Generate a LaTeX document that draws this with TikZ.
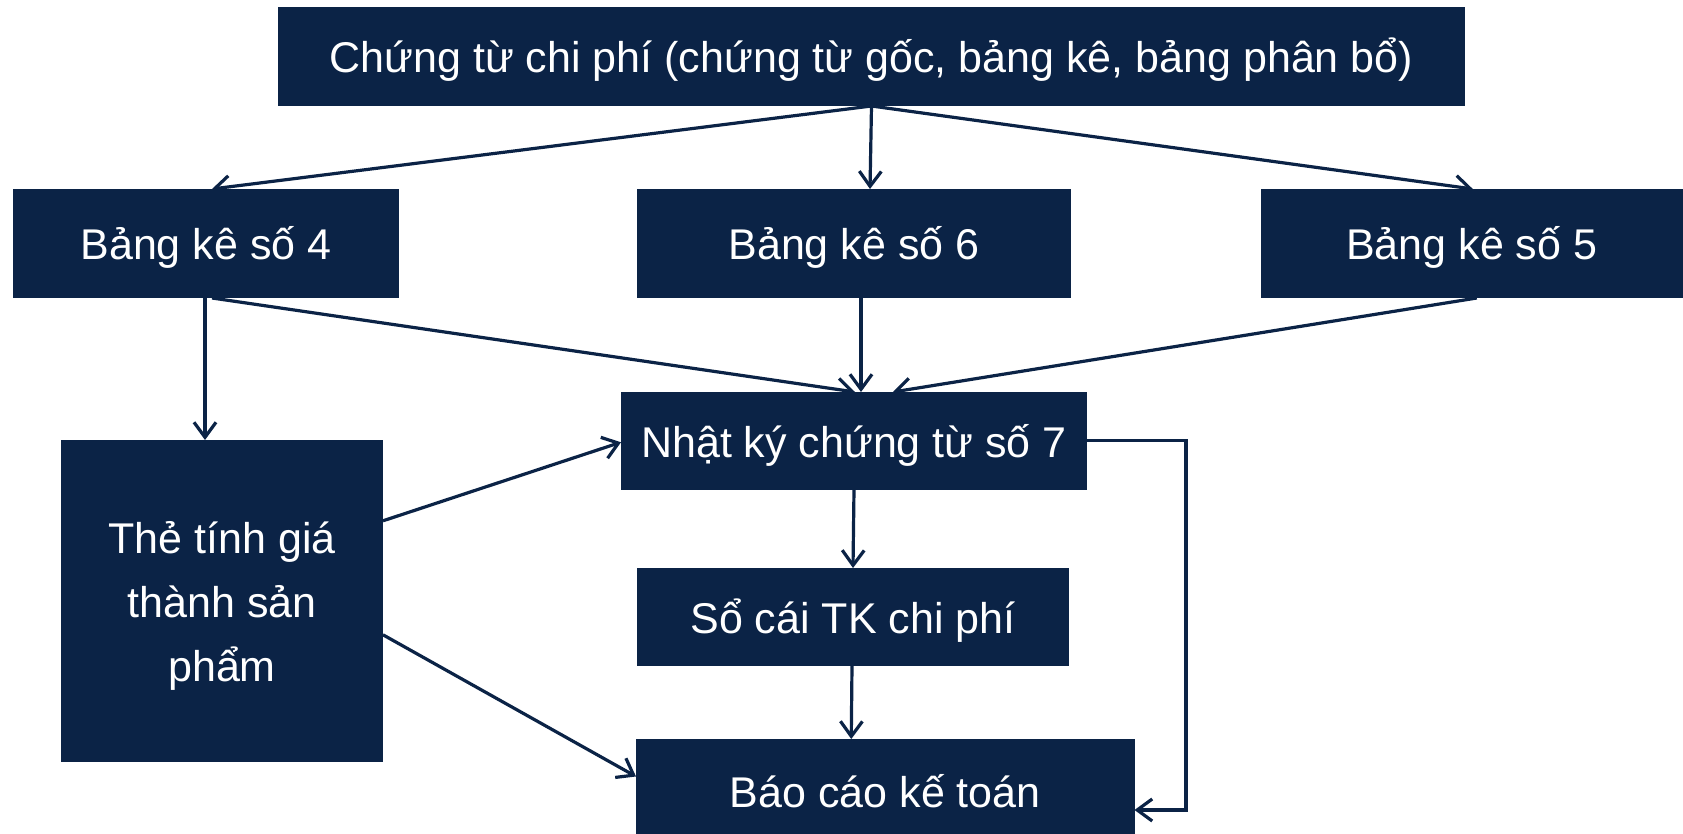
\documentclass[tikz,border=0pt]{standalone}
\usepackage{fontspec}
\setmainfont{Liberation Sans}
\usetikzlibrary{calc,arrows.meta}
\definecolor{navy}{RGB}{11,35,70}
\begin{document}
\begin{tikzpicture}[x=0.5pt,y=-0.5pt,
  box/.style={fill=navy,draw=none,text=white,inner sep=0pt,outer sep=0pt,
    font=\fontsize{21.5pt}{32pt}\selectfont},
  oneline/.style={text height=16.4pt,text depth=0pt},
  lbl/.style={text=white,inner sep=0pt,font=\fontsize{21.5pt}{32pt}\selectfont,align=center,yshift=-2.5pt},
  arr/.style={draw=navy,line width=1.6pt,-{Straight Barb[length=7.5pt,width=11pt,line width=1.6pt]}}]
\clip (0,0) rectangle (1683,834);
\fill[white] (0,0) rectangle (1683,834);
\node[box,oneline,minimum width=593.5pt,minimum height=49.5pt] (top) at (871.5,56.5) {Chứng từ chi phí (chứng từ gốc, bảng kê, bảng phân bổ)};
\node[box,oneline,minimum width=193.2pt,minimum height=54.5pt] (bk4) at (206,243.5) {Bảng kê số 4};
\node[box,oneline,minimum width=217pt,minimum height=54.5pt] (bk6) at (854,243.5) {Bảng kê số 6};
\node[box,oneline,minimum width=211.2pt,minimum height=54.5pt] (bk5) at (1471.8,243.5) {Bảng kê số 5};
\node[box,oneline,minimum width=233pt,minimum height=48.75pt] (nk) at (854,440.75) {Nhật ký chứng từ số 7};
\node[box,minimum width=161pt,minimum height=160.8pt,label={[lbl]center:{Thẻ tính giá\\thành sản\\phẩm}}] (the) at (222,600.8) {};
\node[box,oneline,minimum width=216pt,minimum height=49pt] (sc) at (853,617) {Sổ cái TK chi phí};
\node[box,oneline,minimum width=249.25pt,minimum height=52pt] (bc) at (885.25,791) {Báo cáo kế toán};
\coordinate (elb) at (1186,440.75);
\draw[arr] (top.south) -- ($(bk4.north)+(6,0)$);
\draw[arr] (top.south) -- ($(bk6.north)+(16,0)$);
\draw[arr] (top.south) -- ($(bk5.north)+(1,0)$);
\draw[arr] ($(bk4.south)+(-1,0)$) -- ($(the.north)+(-17,0)$);
\draw[arr] ($(bk4.south)+(6,0)$) -- ($(nk.north)+(1,0)$);
\draw[arr] ($(bk6.south)+(7,0)$) -- ($(nk.north)+(7,0)$);
\draw[arr] ($(bk5.south)+(5,0)$) -- ($(nk.north)+(39,0)$);
\draw[arr] ($(the.east)+(0,-80)$) -- ($(nk.west)+(0,1.5)$);
\draw[arr] ($(the.east)+(0,34)$) -- ($(bc.west)+(0,-14.5)$);
\draw[arr] (nk.south) -- (sc.north);
\draw[arr] ($(sc.south)+(-1,0)$) -- ($(bc.north)+(-34,0)$);
\draw[arr] (nk.east) -- (elb) |- ($(bc.east)+(0,19)$);
\end{tikzpicture}
\end{document}
